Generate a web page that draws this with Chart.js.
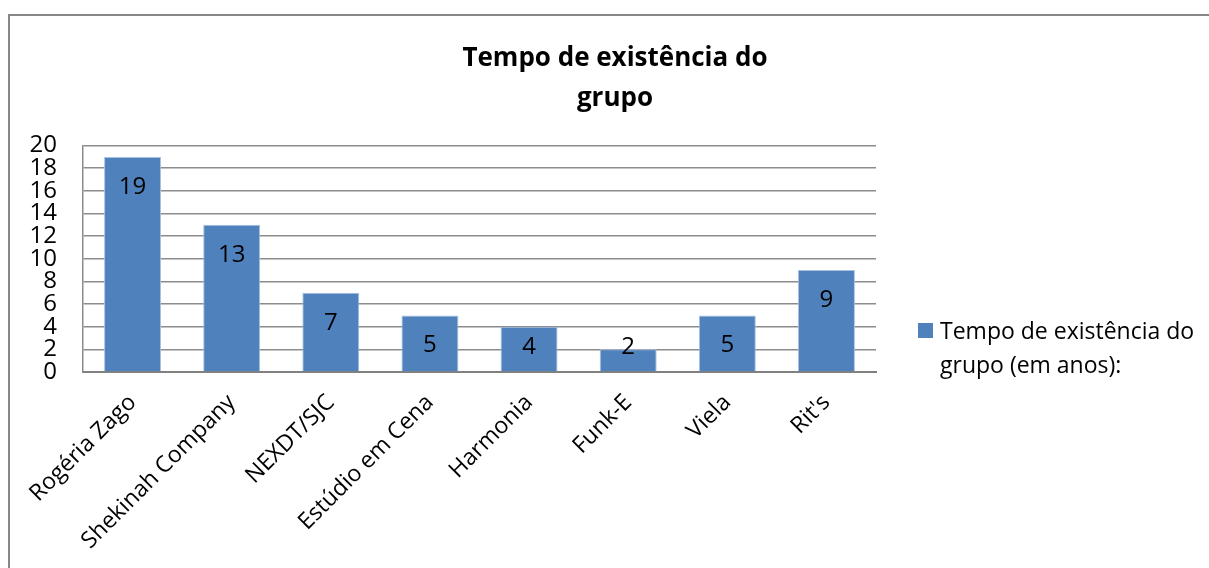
<!DOCTYPE html>
<html>
<head>
<meta charset="utf-8">
<script src="https://cdn.jsdelivr.net/npm/chart.js@4.4.1/dist/chart.umd.min.js"></script>
<style>
    html, body { margin: 0; padding: 0; background: #fff; overflow: hidden; }
    body { width: 1209px; height: 568px; position: relative; font-family: "Open Sans", sans-serif; }
    #frame { position: absolute; left: 8px; top: 14px; width: 1300px; height: 700px; border: 2px solid #878787; }
    #wrap { position: absolute; left: 0; top: 0; width: 1230px; height: 568px; }
    #legend { position: absolute; left: 918px; top: 313px; font-size: 23px; line-height: 34px; color: #000; }
    #legend .box { position: absolute; left: 0; top: 10px; width: 15px; height: 15px; background: #4F81BD; }
    #legend .txt { margin-left: 22px; }
</style>
</head>
<body>
<div id="frame"></div>
<div id="wrap"><canvas id="chart"></canvas></div>
<div id="legend"><span class="box"></span><div class="txt" id="legendText"></div></div>
<script>
const categories = ['Rogéria Zago', 'Shekinah Company', 'NEXDT/SJC', 'Estúdio em Cena', 'Harmonia', 'Funk-E', 'Viela', "Rit's"];
const anos = [19, 13, 7, 5, 4, 2, 5, 9];
const titleLines = ['Tempo de existência do', 'grupo'];
const seriesLabel = 'Tempo de existência do grupo (em anos):';
const yTicks = [0, 2, 4, 6, 8, 10, 12, 14, 16, 18, 20];

// legend text, wrapped like the original
document.getElementById('legendText').innerHTML = 'Tempo de existência do<br>grupo (em anos):';

// values written inside the top of each bar
const barLabels = {
    id: 'barLabels',
    afterDatasetsDraw(chart) {
        const ctx = chart.ctx;
        const meta = chart.getDatasetMeta(0);
        const bottom = chart.chartArea.bottom;
        ctx.save();
        ctx.font = '24px "Open Sans"';
        ctx.fillStyle = '#000';
        ctx.textAlign = 'center';
        ctx.textBaseline = 'middle';
        meta.data.forEach((bar, i) => {
            const y = Math.min(bar.y + 30, bottom - 25);
            ctx.fillText(String(anos[i]), bar.x, y);
        });
        ctx.restore();
    }
};

new Chart(document.getElementById('chart'), {
    type: 'bar',
    data: {
        labels: categories,
        datasets: [{
            label: seriesLabel,
            data: anos,
            backgroundColor: '#4F81BD',
            borderColor: '#A9C1DF',
            borderWidth: 1,
            barPercentage: 0.575,
            categoryPercentage: 1
        }]
    },
    options: {
        responsive: true,
        maintainAspectRatio: false,
        animation: false,
        layout: { padding: { left: 0, right: 0, top: 0, bottom: 0 } },
        plugins: {
            legend: { display: false },
            tooltip: { enabled: false },
            title: {
                display: true,
                text: titleLines,
                color: '#000',
                font: { family: '"Open Sans"', size: 26, weight: 'bold', lineHeight: 1.55 },
                padding: { top: 38, bottom: 27 }
            }
        },
        scales: {
            x: {
                grid: { display: false, drawTicks: false },
                border: { display: true, color: '#808080', width: 2 },
                ticks: {
                    color: '#000',
                    font: { family: '"Open Sans"', size: 23 },
                    minRotation: 45,
                    maxRotation: 45,
                    padding: 17,
                    autoSkip: false
                },
                afterFit(scale) { scale.height = 196; }
            },
            y: {
                min: 0,
                max: 20,
                afterBuildTicks(scale) { scale.ticks = yTicks.map(v => ({ value: v })); },
                grid: { color: '#8c8c8c', lineWidth: 1.5, drawTicks: false },
                border: { display: true, color: '#8c8c8c', width: 1.5 },
                ticks: {
                    color: '#000',
                    font: { family: '"Open Sans"', size: 24, lineHeight: 1 },
                    padding: 26,
                    autoSkip: false
                },
                afterFit(scale) { scale.width = 83; }
            },
            spacer: {
                position: 'right',
                display: true,
                grid: { display: false, drawTicks: false },
                border: { display: false },
                ticks: { display: false },
                afterFit(scale) { scale.width = 354; }
            }
        }
    },
    plugins: [barLabels]
});
</script>
</body>
</html>
